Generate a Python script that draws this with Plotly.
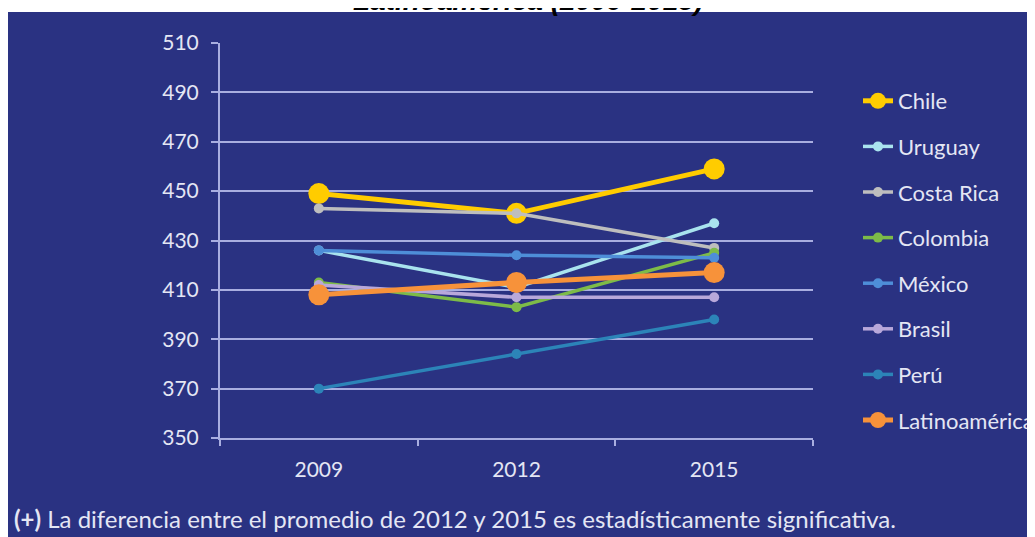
import plotly.graph_objects as go

years = ["2009", "2012", "2015"]
countries = ["Chile", "Uruguay", "Costa Rica", "Colombia", "México", "Brasil", "Perú", "Latinoamérica"]
chile = [449, 441, 459]
uruguay = [426, 411, 437]
costa_rica = [443, 441, 427]
colombia = [413, 403, 425]
mexico = [426, 424, 423]
brasil = [412, 407, 407]
peru = [370, 384, 398]
latinoamerica = [408, 413, 417]
series = [chile, uruguay, costa_rica, colombia, mexico, brasil, peru, latinoamerica]
colors = ["#FFCC00", "#A9E3EE", "#BEBEBE", "#7DBB48", "#4E8ED8", "#B8A8DA", "#2C84B8", "#F7923A"]
y_ticks = [350, 370, 390, 410, 430, 450, 470, 490, 510]

BG = "#2A3282"
GRID = "#A9AEE0"
TXT = "#E4E6F4"

# page offset caused by the default 8px body margin
OFF = 8
W, H = 1035 - OFF, 537 - OFF
# plot area in page pixels
L, R, T, B = 220 - OFF, 813 - OFF, 43 - OFF, 438 - OFF

def px_x(p):
    return (p - OFF - L) / (R - L)

def px_y(p):
    return (B - (p - OFF)) / (B - T)

fig = go.Figure()
for name, vals, col in zip(countries, series, colors):
    big = name in ("Chile", "Latinoamérica")
    fig.add_trace(go.Scatter(
        x=years, y=vals, name=name, mode="lines+markers",
        line=dict(color=col, width=5 if big else 3.5),
        marker=dict(color=col, size=21 if big else 10),
        legendgroup=name,
    ))

fig.add_shape(type="rect", xref="paper", yref="paper",
              x0=px_x(8), x1=px_x(1060), y0=px_y(560), y1=px_y(12),
              fillcolor=BG, line=dict(width=0), layer="below")

fig.add_annotation(text="<b><i>Latinoamérica (2009-2015)</i></b>", xref="paper", yref="paper",
                   x=px_x(528), y=px_y(0), xanchor="center", yanchor="middle",
                   showarrow=False, font=dict(family="Liberation Sans", size=28, color="#000000"))

fig.add_annotation(text="<b>(+)</b> La diferencia entre el promedio de 2012 y 2015 es estadísticamente significativa.",
                   xref="paper", yref="paper", x=px_x(12), y=px_y(518),
                   xanchor="left", yanchor="middle", showarrow=False,
                   font=dict(family="Lato", size=24, color=TXT))

fig.update_layout(
    width=W, height=H,
    margin=dict(l=L, r=W - R, t=T, b=H - B, autoexpand=False),
    paper_bgcolor="white",
    plot_bgcolor="rgba(0,0,0,0)",
    font=dict(family="Lato", color=TXT),
    showlegend=True,
    legend=dict(x=px_x(858), y=px_y(80), xanchor="left", yanchor="top",
                bgcolor="rgba(0,0,0,0)", font=dict(size=22, color=TXT),
                tracegroupgap=14, itemsizing="trace"),
)
fig.update_xaxes(type="category", range=[-0.5, 2.5], tickson="boundaries",
                 ticks="outside", ticklen=6, tickcolor=GRID, tickwidth=2,
                 showline=True, linecolor=GRID, linewidth=2, showgrid=False,
                 tickfont=dict(size=21, color=TXT), zeroline=False,
                 ticklabelstandoff=12)
fig.update_yaxes(range=[350, 510], tickvals=y_ticks, ticks="outside", ticklen=7,
                 tickcolor=GRID, tickwidth=2, showline=True, linecolor=GRID, linewidth=2,
                 showgrid=True, gridcolor=GRID, gridwidth=2, zeroline=False,
                 tickfont=dict(size=21, color=TXT), ticklabelstandoff=8)

fig.write_html("out.html")
